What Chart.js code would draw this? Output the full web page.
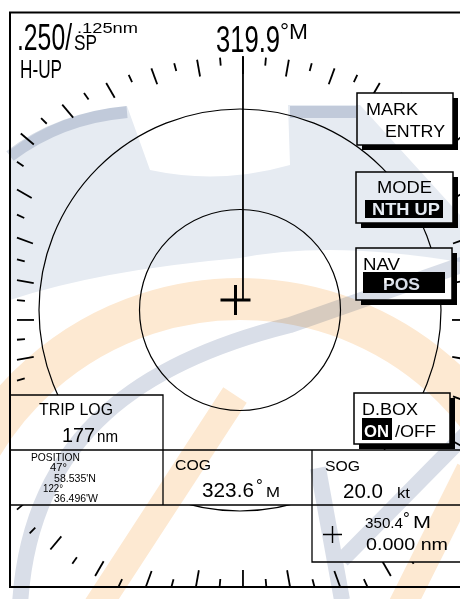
<!DOCTYPE html>
<html>
<head>
<meta charset="utf-8">
<script src="https://cdn.jsdelivr.net/npm/chart.js@4.4.1/dist/chart.umd.min.js"></script>
<style>
    html, body {margin: 0; padding: 0; background: #fff; overflow: hidden;}
    #wrap {width: 460px; height: 599px;}
</style>
</head>
<body>
<div id="wrap"><canvas id="radar"></canvas></div>
<script>
// screen values, nm and degrees
const rangeText = '.250/';
const ringText = '.125nm';
const ringRadii = [0.125, 0.250];
const headingText = '319.9';
const modeText = 'H-UP';
// bearing scale every 5 deg, long mark every 10
const bearingTicks = [];
for (let b = 0; b < 360; b += 5) bearingTicks.push(b);
const ownShip = [{x: -0.0056, y: 0.0124}];
const headingLine = [{x: 0.0037, y: 0.0124}, {x: 0.0037, y: 0.316}];
const bearingCentre = {x: 0.0037, y: -0.0124};

const softKeyTop = ['MARK', 'MODE', 'NAV', 'D.BOX'];
const softKeyBottom = ['ENTRY', 'NTH UP', 'POS', 'ON'];
const tripLog = '177';
const latDeg = '47°', latMin = "58.535'N";
const lonDeg = '122°', lonMin = "36.496'W";
const cog = '323.6';
const sog = '20.0';
const cursorBrg = '350.4';
const cursorRng = '0.000';

// view window in nm (804 px per nm)
const pxPerNm = 804;
const view = {xMin: -240 / pxPerNm, xMax: 220 / pxPerNm, yMin: -289 / pxPerNm, yMax: 310 / pxPerNm};

const FONT = '"Liberation Sans", Arial, Helvetica, sans-serif';

function drawText(ctx, s, x, y, size, o) {
    o = o || {};
    ctx.save();
    ctx.font = (o.bold ? 'bold ' : '') + size + 'px ' + FONT;
    ctx.fillStyle = o.color || '#000';
    ctx.textAlign = 'left';
    ctx.textBaseline = 'alphabetic';
    const w = ctx.measureText(s).width;
    const sx = o.width ? o.width / w : 1;
    ctx.translate(x, y);
    ctx.scale(sx, 1);
    ctx.fillText(s, 0, 0);
    ctx.restore();
}

function softKey(ctx, x, y, w, h) {
    ctx.fillStyle = '#000';
    ctx.fillRect(x + 5, y + 5, w, h);
    ctx.fillStyle = '#fff';
    ctx.fillRect(x, y, w, h);
    ctx.strokeStyle = '#000';
    ctx.lineWidth = 1.5;
    ctx.strokeRect(x, y, w, h);
}

// distance from bearing centre to the edge of the bearing scale
function edgeDist(ux, uy) {
    const a = 315, b = uy < 0 ? 263 : 290;
    const dEll = 1 / Math.sqrt((ux / a) ** 2 + (uy / b) ** 2);
    let dRect = Infinity;
    if (Math.abs(ux) > 1e-6) dRect = Math.min(dRect, 226 / Math.abs(ux));
    if (Math.abs(uy) > 1e-6) dRect = Math.min(dRect, (uy < 0 ? 263 : 267) / Math.abs(uy));
    return Math.min(dEll, dRect);
}

// faint background artwork of the manual page
function watermark(ctx) {
    ctx.save();
    ctx.globalCompositeOperation = 'multiply';
    // pale blue sweep at the top
    ctx.fillStyle = '#e6ebf2';
    ctx.beginPath();
    ctx.moveTo(10, 150);
    ctx.quadraticCurveTo(60, 112, 127, 106);
    ctx.lineTo(150, 170);
    ctx.quadraticCurveTo(220, 185, 290, 165);
    ctx.lineTo(288, 105);
    ctx.lineTo(360, 105);
    ctx.lineTo(460, 215);
    ctx.lineTo(460, 262);
    ctx.quadraticCurveTo(330, 240, 240, 258);
    ctx.quadraticCurveTo(100, 270, 10, 300);
    ctx.closePath();
    ctx.fill();
    ctx.strokeStyle = '#d6dce6';
    ctx.lineWidth = 12;
    ctx.beginPath();
    ctx.moveTo(10, 156);
    ctx.quadraticCurveTo(60, 118, 127, 112);
    ctx.moveTo(290, 112);
    ctx.lineTo(356, 112);
    ctx.stroke();

    // peach arch
    ctx.strokeStyle = '#fde9d2';
    ctx.lineWidth = 42;
    ctx.beginPath();
    ctx.arc(240, 600, 301, Math.PI * 1.02, Math.PI * 1.98);
    ctx.stroke();
    // peach stripes lower left / right
    ctx.lineWidth = 28;
    ctx.beginPath();
    ctx.moveTo(95, 610);
    ctx.lineTo(235, 395);
    ctx.moveTo(400, 610);
    ctx.lineTo(470, 470);
    ctx.stroke();

    // grey sweep and V below
    ctx.strokeStyle = '#d9dee8';
    ctx.lineWidth = 16;
    ctx.beginPath();
    ctx.moveTo(20, 605);
    ctx.bezierCurveTo(30, 430, 150, 360, 290, 325);
    ctx.lineTo(470, 262);
    ctx.moveTo(318, 468);
    ctx.lineTo(342, 600);
    ctx.moveTo(342, 560);
    ctx.lineTo(470, 430);
    ctx.stroke();
    ctx.restore();
}

const radarPlugin = {
    id: 'radarScreen',
    beforeDatasetsDraw(chart) {
        const ctx = chart.ctx;
        const xs = chart.scales.x, ys = chart.scales.y;
        const cx = xs.getPixelForValue(0), cy = ys.getPixelForValue(0);

        // range rings
        ctx.save();
        ctx.strokeStyle = '#000';
        ctx.lineWidth = 1.2;
        ringRadii.forEach(r => {
            const rp = xs.getPixelForValue(r) - cx;
            ctx.beginPath();
            ctx.arc(cx, cy, rp, 0, Math.PI * 2);
            ctx.stroke();
        });

        // bearing scale
        const bx = xs.getPixelForValue(bearingCentre.x), by = ys.getPixelForValue(bearingCentre.y);
        ctx.lineWidth = 1.8;
        bearingTicks.forEach(b => {
            const rad = b * Math.PI / 180;
            const ux = Math.sin(rad), uy = -Math.cos(rad);
            const d = edgeDist(ux, uy);
            const len = b % 10 === 0 ? 17 : 8;
            ctx.beginPath();
            ctx.moveTo(bx + ux * d, by + uy * d);
            ctx.lineTo(bx + ux * (d - len), by + uy * (d - len));
            ctx.stroke();
        });
        ctx.restore();
    },
    afterDatasetsDraw(chart) {
        const ctx = chart.ctx;
        ctx.save();

        // header
        drawText(ctx, rangeText, 17, 50, 36, {width: 55});
        drawText(ctx, 'SP', 74, 50, 22, {width: 23});
        drawText(ctx, ringText, 77, 33, 15, {width: 61});
        drawText(ctx, modeText, 20, 78, 25, {width: 42});
        drawText(ctx, headingText, 216, 52, 37, {width: 64});
        drawText(ctx, '°M', 280, 39, 22, {width: 28});

        // soft keys
        softKey(ctx, 357, 93, 96, 52);
        drawText(ctx, softKeyTop[0], 366, 115, 17, {width: 52});
        drawText(ctx, softKeyBottom[0], 385, 137, 17, {width: 60});

        softKey(ctx, 356, 172, 97, 51);
        drawText(ctx, softKeyTop[1], 377, 193, 17, {width: 55});
        ctx.fillStyle = '#000';
        ctx.fillRect(365, 200, 78, 18);
        drawText(ctx, softKeyBottom[1], 372, 215, 17, {bold: true, color: '#fff', width: 68});

        softKey(ctx, 356, 248, 96, 52);
        drawText(ctx, softKeyTop[2], 363, 270, 17, {width: 37});
        ctx.fillStyle = '#000';
        ctx.fillRect(363, 272, 82, 21);
        drawText(ctx, softKeyBottom[2], 383, 290, 17, {bold: true, color: '#fff', width: 37});

        softKey(ctx, 354, 393, 96, 51);
        drawText(ctx, softKeyTop[3], 362, 415, 17, {width: 56});
        ctx.fillStyle = '#000';
        ctx.fillRect(362, 418, 30, 22);
        drawText(ctx, softKeyBottom[3], 364, 437, 17, {bold: true, color: '#fff', width: 25});
        drawText(ctx, '/OFF', 395, 437, 17, {width: 41});

        // data boxes
        ctx.fillStyle = '#fff';
        ctx.fillRect(10, 395, 153, 55);
        ctx.fillRect(10, 450, 450, 55);
        ctx.fillRect(312, 505, 148, 57);
        ctx.strokeStyle = '#000';
        ctx.lineWidth = 1.3;
        ctx.beginPath();
        ctx.moveTo(10, 395); ctx.lineTo(163, 395); ctx.lineTo(163, 505);
        ctx.moveTo(10, 450); ctx.lineTo(460, 450);
        ctx.moveTo(10, 505); ctx.lineTo(460, 505);
        ctx.moveTo(312, 450); ctx.lineTo(312, 562); ctx.lineTo(460, 562);
        ctx.stroke();

        drawText(ctx, 'TRIP LOG', 39, 415, 16, {width: 74});
        drawText(ctx, tripLog, 62, 442, 21, {width: 33});
        drawText(ctx, 'nm', 97, 442, 16, {width: 21});

        drawText(ctx, 'POSITION', 31, 461, 10.5, {width: 49});
        drawText(ctx, latDeg, 50, 471, 10.5, {width: 17});
        drawText(ctx, latMin, 54, 482, 10.5, {width: 42});
        drawText(ctx, lonDeg, 43, 492, 10.5, {width: 20});
        drawText(ctx, lonMin, 54, 502, 10.5, {width: 44});

        drawText(ctx, 'COG', 175, 470, 15.5, {width: 36});
        drawText(ctx, cog, 202, 497, 21, {width: 52});
        drawText(ctx, '°', 256, 491, 17);
        drawText(ctx, 'M', 266, 497, 15, {width: 14});

        drawText(ctx, 'SOG', 325, 471, 15.5, {width: 35});
        drawText(ctx, sog, 343, 498, 20.5, {width: 40});
        drawText(ctx, 'kt', 397, 498, 15, {width: 13});

        ctx.strokeStyle = '#000';
        ctx.lineWidth = 1.4;
        ctx.beginPath();
        ctx.moveTo(323, 534.5); ctx.lineTo(342, 534.5);
        ctx.moveTo(332.5, 526); ctx.lineTo(332.5, 543);
        ctx.stroke();
        drawText(ctx, cursorBrg, 365, 528, 15.5, {width: 38});
        drawText(ctx, '°', 403, 524, 17);
        drawText(ctx, 'M', 413, 528, 16, {width: 18});
        drawText(ctx, cursorRng + ' nm', 366, 550, 17, {width: 82});

        // screen frame
        ctx.strokeStyle = '#000';
        ctx.lineWidth = 2;
        ctx.beginPath();
        ctx.moveTo(462, 12.5); ctx.lineTo(10, 12.5); ctx.lineTo(10, 587); ctx.lineTo(462, 587);
        ctx.stroke();
        ctx.restore();
    },
    afterDraw(chart) {
        watermark(chart.ctx);
    }
};

new Chart(document.getElementById('radar'), {
    type: 'scatter',
    data: {
        datasets: [
            {
                label: 'heading',
                data: headingLine,
                showLine: true,
                borderColor: '#000',
                borderWidth: 1.8,
                pointRadius: 0
            },
            {
                label: 'own ship',
                data: ownShip,
                pointStyle: 'cross',
                pointRadius: 15,
                borderWidth: 3,
                borderColor: '#000'
            }
        ]
    },
    options: {
        responsive: true,
        maintainAspectRatio: false,
        devicePixelRatio: 1,
        animation: false,
        layout: {padding: 0, autoPadding: false},
        plugins: {legend: {display: false}, tooltip: {enabled: false}},
        scales: {
            x: {type: 'linear', min: view.xMin, max: view.xMax, display: false},
            y: {type: 'linear', min: view.yMin, max: view.yMax, display: false}
        }
    },
    plugins: [radarPlugin]
});
</script>
</body>
</html>
